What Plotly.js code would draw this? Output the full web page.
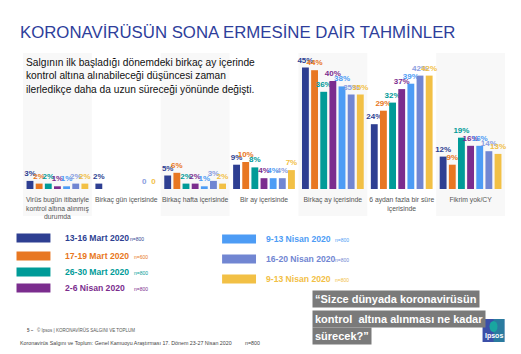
<!DOCTYPE html>
<html>
<head>
<meta charset="utf-8">
<script src="https://cdn.plot.ly/plotly-3.0.1.min.js"></script>
<style>
html,body{margin:0;padding:0;background:#fff;}
#chart{width:521px;height:354px;}
</style>
</head>
<body>
<div id="chart"></div>
<script>
// ---- data ----
var categories = [
  "Virüs bugün itibariyle<br>kontrol altına alınmış<br>durumda",
  "Birkaç gün içerisinde",
  "Birkaç hafta içerisinde",
  "Bir ay içerisinde",
  "Birkaç ay içerisinde",
  "6 aydan fazla bir süre<br>içerisinde",
  "Fikrim yok/CY"
];
var seriesNames = ["13-16 Mart 2020","17-19 Mart 2020","26-30 Mart 2020","2-6 Nisan 2020","9-13 Nisan 2020","16-20 Nisan 2020","9-13 Nisan 2020"];
var seriesN = ["n=800","n=600","n=800","n=800","n=800","n=800","n=800"];
var s1 = [3, 2, 5, 9, 45, 24, 12];
var s2 = [2, null, 6, 10, 44, 29, 9];
var s3 = [2, null, 2, 8, 36, 32, 19];
var s4 = [1, null, 2, 4, 40, 37, 16];
var s5 = [1, null, 1, 4, 38, 39, 16];
var s6 = [2, 0, 3, 4, 35, 42, 14];
var s7 = [2, 0, 2, 7, 35, 42, 13];
var seriesValues = [s1, s2, s3, s4, s5, s6, s7];
var colors = ["#2e3f92","#e87722","#009b98","#7b2d8e","#4d9cf5","#7186d2","#f2c045"];
var labelColors = ["#2e3f92","#e87722","#009b98","#7b2d8e","#4d9cf5","#8a9de0","#f2c045"];

// ---- pixel helpers (layout only) ----
var L = 22.5, R = 505.5, T = 54, B = 189;
function px(x){ return (x - L) / (R - L); }
function py(y){ return (B - y) / (B - T); }

var FONT = 'Liberation Sans, Arial, sans-serif';

var traces = seriesValues.map(function(vals, i){
  return {
    type: 'bar',
    x: categories,
    y: vals,
    name: seriesNames[i],
    marker: {color: colors[i]},
    text: vals.map(function(v){ return v === null ? '' : (v === 0 ? '0' : v + '%'); }),
    textposition: 'outside',
    constraintext: 'none',
    cliponaxis: false,
    textfont: {family: FONT, size: 8, weight: 'bold', color: labelColors[i]},
    hoverinfo: 'none'
  };
});

var shapes = [];
// alternating light panels
[0, 2, 4, 6].forEach(function(c){
  shapes.push({type:'rect', xref:'x', yref:'paper', x0:c-0.5, x1:c+0.5, y0:py(216), y1:py(53),
    fillcolor:'#f8f8f8', line:{width:0}, layer:'below'});
});

var annotations = [];
// subtitle
annotations.push({xref:'paper', yref:'paper', x:px(24), y:py(55), xanchor:'left', yanchor:'top', align:'left',
  showarrow:false, text:"Salgının ilk başladığı dönemdeki birkaç ay içerinde<br>kontrol altına alınabileceği düşüncesi zaman<br>ilerledikçe daha da uzun süreceği yönünde değişti.",
  font:{family:FONT, size:10.2, color:'#111'}});

// legend (custom)
var legPos = [
  {rx:16, ty:238, tx:63, nx:128},
  {rx:16, ty:256, tx:63, nx:132},
  {rx:16, ty:272, tx:63, nx:132},
  {rx:16, ty:288, tx:63, nx:132},
  {rx:222, ty:239, tx:264, nx:333},
  {rx:222, ty:259, tx:264, nx:333},
  {rx:222, ty:279, tx:264, nx:333}
];
seriesNames.forEach(function(n, i){
  var p = legPos[i];
  shapes.push({type:'rect', xref:'paper', yref:'paper', x0:px(p.rx), x1:px(p.rx+34), y0:py(p.ty+4.5), y1:py(p.ty-4.5),
    fillcolor:colors[i], line:{width:0}});
  annotations.push({xref:'paper', yref:'paper', x:px(p.tx), y:py(p.ty), xanchor:'left', yanchor:'middle', showarrow:false,
    text:'<b>'+n+'</b>', font:{family:FONT, size:8.6, color:colors[i]}});
  annotations.push({xref:'paper', yref:'paper', x:px(p.nx), y:py(p.ty+0.5), xanchor:'left', yanchor:'middle', showarrow:false,
    text:seriesN[i], font:{family:FONT, size:5, color:colors[i]}});
});

// question box
var qLines = ["“Sizce dünyada koronavirüsün", "kontrol  altına alınması ne kadar", "sürecek?”"];
var qY = [299, 318.5, 336];
qLines.forEach(function(t, i){
  annotations.push({xref:'paper', yref:'paper', x:px(312), y:py(qY[i]), xanchor:'left', yanchor:'middle', showarrow:false,
    text:'<b>'+t+'</b>', bgcolor:'#7a7a7a', borderpad:2,
    font:{family:FONT, size:11, color:'#fff'}});
});

// Ipsos logo
shapes.push({type:'rect', xref:'paper', yref:'paper', x0:px(483), x1:px(505), y0:py(342), y1:py(319),
  fillcolor:'#3b4fa8', line:{width:0}});
shapes.push({type:'rect', xref:'paper', yref:'paper', x0:px(494), x1:px(505), y0:py(342), y1:py(319),
  fillcolor:'#1f9a9a', opacity:0.6, line:{width:0}});
shapes.push({type:'circle', xref:'paper', yref:'paper', x0:px(490), x1:px(498), y0:py(332), y1:py(321),
  fillcolor:'#19a6a0', line:{width:0}});
annotations.push({xref:'paper', yref:'paper', x:px(494), y:py(336), xanchor:'center', yanchor:'middle', showarrow:false,
  text:'<b>Ipsos</b>', font:{family:FONT, size:7, color:'#fff'}});

// footer
annotations.push({xref:'paper', yref:'paper', x:px(25), y:py(330), xanchor:'left', yanchor:'middle', showarrow:false,
  text:'<b>5 –</b>   © Ipsos | KORONAVİRÜS SALGINI VE TOPLUM', font:{family:FONT, size:4.5, color:'#555'}});
annotations.push({xref:'paper', yref:'paper', x:px(17), y:py(343), xanchor:'left', yanchor:'middle', showarrow:false,
  text:'Koronavirüs Salgını ve Toplum: Genel Kamuoyu Araştırması 17. Dönem 23-27 Nisan 2020', font:{family:FONT, size:5.3, color:'#444'}});
annotations.push({xref:'paper', yref:'paper', x:px(243), y:py(343), xanchor:'left', yanchor:'middle', showarrow:false,
  text:'n=800', font:{family:FONT, size:5.3, color:'#444'}});

var layout = {
  width:521, height:354,
  margin:{l:L, r:521-R, t:T, b:354-B, pad:0},
  paper_bgcolor:'#fff', plot_bgcolor:'rgba(0,0,0,0)',
  showlegend:false,
  barmode:'group', bargap:0.07, bargroupgap:0.25,
  title:{text:'KORONAVİRÜSÜN SONA ERMESİNE DAİR TAHMİNLER', xref:'container', yref:'container',
    x:20/521, xanchor:'left', y:1-32/354, yanchor:'middle',
    font:{family:FONT, size:16.8, color:'#2e3e9b'}},
  xaxis:{type:'category', showgrid:false, showline:false, zeroline:false, ticks:'', ticklen:0, tickangle:0,
    ticklabelstandoff:5,
    tickfont:{family:FONT, size:6.8, color:'#555'}, automargin:false, fixedrange:true},
  yaxis:{range:[0,50], visible:false, showgrid:false, zeroline:false, fixedrange:true},
  shapes:shapes,
  annotations:annotations,
  font:{family:FONT}
};

Plotly.newPlot('chart', traces, layout, {displayModeBar:false, staticPlot:true});
</script>
</body>
</html>
